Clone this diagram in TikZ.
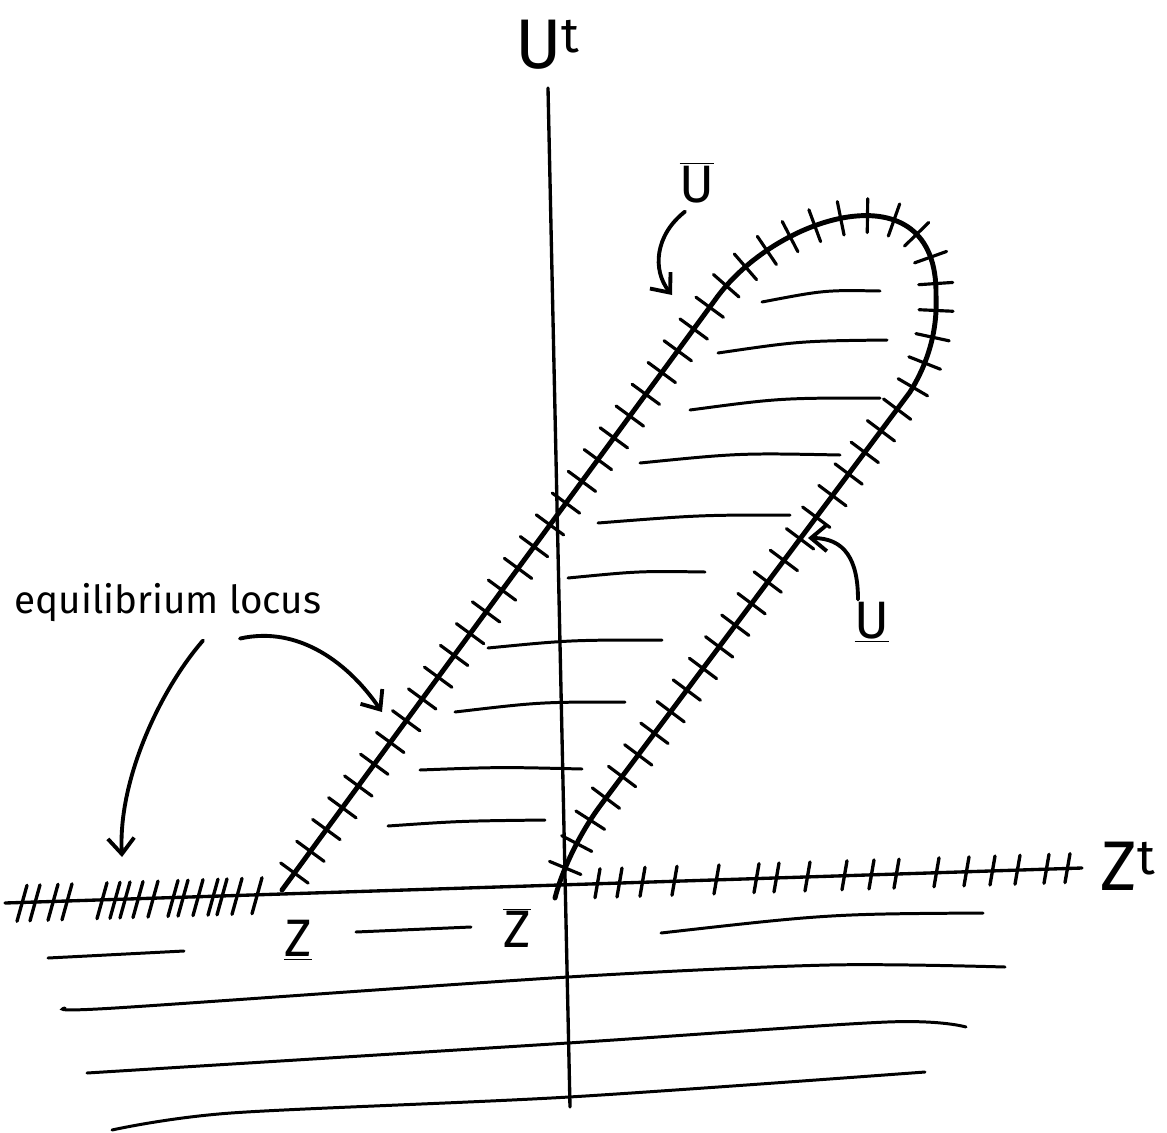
\documentclass[tikz,border=0pt]{standalone}
\usepackage{fontspec}
\setmainfont{Fira Sans}
\usetikzlibrary{arrows.meta,decorations.markings}

\tikzset{
  axis/.style={line width=1.9pt, line cap=round},
  locus/.style={line width=2.8pt, line cap=round, line join=round,
    postaction={decorate, decoration={markings,
      mark=between positions 0.012 and 0.995 step 0.54cm with
        {\draw[line width=1.8pt, line cap=round] (0,-0.34cm) -- (0,0.34cm);}}}},
  hatch/.style={line width=1.9pt, line cap=round},
  shade/.style={line width=1.7pt, line cap=round},
  pointer/.style={line width=2.2pt, line cap=round,
    -{Straight Barb[length=9pt,width=15pt,line width=2.2pt]}},
  lbl/.style={inner sep=0pt, font=\fontsize{30}{34}\selectfont},
  biglbl/.style={inner sep=0pt, font=\fontsize{40}{44}\selectfont},
}

\begin{document}
\begin{tikzpicture}[x=0.02cm, y=-0.02cm]
\useasboundingbox (0,0) rectangle (1167,1133);

% axes
\draw[axis] (548,88) -- (570,1107);
\draw[axis] (5,903) -- (1082,868);
\node[biglbl] (utlbl) at (548,45) {U\textsuperscript{t}};
\node[biglbl] (ztlbl) at (1128,866) {Z\textsuperscript{t}};

% hatching on the Z axis
\foreach \x in {22,35,53,67,102,115,125,138,153,173,183,198,213,222,237,257}
  \draw[hatch] ({\x-5},{903-0.0322*\x+19}) -- ({\x+5},{903-0.0322*\x-17});
\foreach \x in {598,620,643,675,717,757,777,808,845,872,897,937,967,993,1018,1047,1068}
  \draw[hatch] ({\x-3},{903-0.0322*\x+14}) -- ({\x+2},{903-0.0322*\x-15});

% the loop
\draw[locus] (282,890) -- (715,300)
  .. controls (775,215) and (938,165) .. (936,295)
  .. controls (938,335) and (925,368) .. (910,392)
  -- (600,806) .. controls (580,833) and (562,870) .. (555,898);

% shading inside the loop
\draw[shade] (762,302) .. controls (825,290) .. (880,291);
\draw[shade] (718,353) .. controls (800,341) .. (887,340);
\draw[shade] (690,410) .. controls (780,398) .. (880,398);
\draw[shade] (640,463) .. controls (740,453) .. (840,455);
\draw[shade] (598,523) .. controls (700,515) .. (790,515);
\draw[shade] (568,578) .. controls (640,571) .. (705,572);
\draw[shade] (488,648) .. controls (570,640) .. (662,640);
\draw[shade] (455,712) .. controls (540,702) .. (625,702);
\draw[shade] (420,770) .. controls (500,767) .. (582,769);
\draw[shade] (388,826) .. controls (460,821) .. (545,820);

% shading below the axis
\draw[shade] (48,958) -- (184,951);
\draw[shade] (356,932) -- (471,927);
\draw[shade] (661,933) .. controls (829,914) .. (983,913);
\draw[shade] plot[smooth] coordinates {(65,1008) (115,1008) (568,977) (829,965) (1005,967)};
\draw[shade] plot[smooth] coordinates {(87,1073) (568,1043) (887,1022) (966,1027)};
\draw[shade] plot[smooth] coordinates {(112,1130) (231,1113) (569,1097) (925,1072)};

% labels
\node[lbl] (zlolbl) at (298,940) {\underline{Z}};
\node[lbl] (zhilbl) at (517,928) {$\overline{\mbox{Z}}$};
\node[lbl] (uhilbl) at (697,183) {$\overline{\mbox{U}}$};
\node[lbl] (ulolbl) at (872,622) {\underline{U}};
\node[inner sep=0pt, font=\fontsize{22}{26}\selectfont] (eqlbl) at (168,603) {equilibrium locus};

% pointers
\coordinate (uhitip) at (672,295);
\coordinate (ulotip) at (808,538);
\coordinate (eqtipa) at (122,857);
\coordinate (eqtipb) at (382,712);
\draw[pointer] ([shift={(-12,8)}]uhilbl.south) .. controls (655,235) and (652,270) .. (uhitip);
\draw[pointer] ([shift={(-14,-2)}]ulolbl.north) .. controls (858,560) and (845,538) .. (ulotip);
\draw[pointer] ([shift={(35,18)}]eqlbl.south) .. controls (160,690) and (118,780) .. (eqtipa);
\draw[pointer] ([shift={(72,16)}]eqlbl.south) .. controls (300,625) and (350,665) .. (eqtipb);
\end{tikzpicture}
\end{document}
